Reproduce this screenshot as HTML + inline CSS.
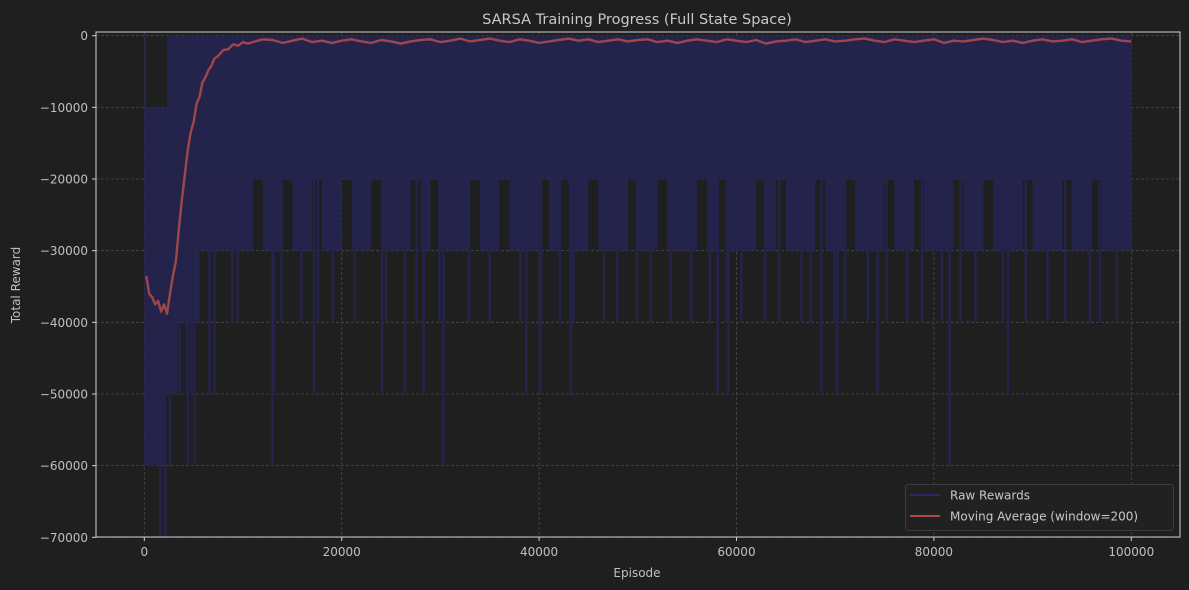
<!DOCTYPE html>
<html><head><meta charset="utf-8">
<style>
html,body{margin:0;padding:0;background:#1f1f1f;}
svg{display:block;font-family:"DejaVu Sans","Liberation Sans",sans-serif;}
</style></head>
<body>
<svg id="chart" width="1189" height="590" viewBox="0 0 1189 590" xmlns="http://www.w3.org/2000/svg">
<rect x="0" y="0" width="1189" height="590" fill="#1f1f1f"/>
<text x="637" y="24" text-anchor="middle" font-size="14.5" fill="#c8c8c8">SARSA Training Progress (Full State Space)</text>
<g id="grid"></g>
<g id="raw"></g>
<g id="ma"></g>
<rect x="96" y="32" width="1084" height="505" fill="none" stroke="#d0d0d0" stroke-width="1"/>
<g id="axes"></g>
<text x="637" y="577" text-anchor="middle" font-size="12" fill="#c0c0c0">Episode</text>
<text transform="translate(20,285) rotate(-90)" text-anchor="middle" font-size="12" fill="#c0c0c0">Total Reward</text>
<g>
<rect x="905.5" y="484.5" width="268" height="46" rx="3" fill="#212121" stroke="#3c3c3c"/>
<line x1="910" y1="495" x2="940" y2="495" stroke="#2a2a66" stroke-width="2"/>
<text x="950" y="499.5" font-size="12" fill="#c8c8c8">Raw Rewards</text>
<line x1="910" y1="516" x2="940" y2="516" stroke="#b04848" stroke-width="2"/>
<text x="950" y="520.5" font-size="12" fill="#c8c8c8">Moving Average (window=200)</text>
</g>
</svg>
<script>
// ---- data ----
const xTicks = [0, 20000, 40000, 60000, 80000, 100000];
const yTicks = [0, -10000, -20000, -30000, -40000, -50000, -60000, -70000];
// raw reward bands: [startEpisode, endEpisode, topReward, bottomReward]
const rawBandStart = [0, 2300, 3300, 0, 0, 0, 0, 0, 0];
const rawBandEnd   = [2300, 3300, 100000, 3000, 5600, 3400, 2100, 1000, 200];
const rawBandTop   = [-10000, 0, 0, -20000, -30000, -40000, -50000, -50000, 0];
const rawBandBot   = [-20000, -20000, -20000, -30000, -40000, -50000, -60000, -60000, -10000];
// per-1000-episode minimum in the -20000..-30000 zone (bins starting at 3000)
const binMin = [-30000,-30000,-30000,-30000,-30000,-30000,-30000,-30000,-20000,-30000,
 -30000,-20000,-30000,-30000,-20000,-30000,-30000,-20000,-30000,-30000,
 -20000,-30000,-30000,-30000,-20000,-30000,-20000,-30000,-30000,-30000,
 -20000,-30000,-30000,-20000,-30000,-30000,-30000,-20000,-30000,-20000,
 -30000,-30000,-20000,-30000,-30000,-30000,-20000,-30000,-30000,-20000,
 -30000,-30000,-30000,-20000,-30000,-20000,-30000,-30000,-30000,-20000,
 -30000,-20000,-30000,-30000,-30000,-20000,-30000,-30000,-20000,-30000,
 -30000,-30000,-20000,-30000,-30000,-20000,-30000,-30000,-30000,-20000,
 -30000,-30000,-20000,-30000,-30000,-30000,-20000,-30000,-30000,-30000,
 -20000,-30000,-30000,-20000,-30000,-30000,-30000];
// individual deep episodes
const spikeEpisode = [1600,2100,8900,9500,13900,15900,17600,19100,21300,24500,27600,29900,32900,35000,38100,40200,42100,43500,46600,47900,49900,51300,53300,55400,57300,59000,60500,62900,64300,66600,67500,69900,71000,73300,75200,77300,78800,80800,82700,84200,87000,89300,91500,93300,95800,96800,98500,
 3600,4300,4800,6600,7100,13100,17200,24100,26400,28300,38700,40100,43200,58100,59200,68600,70200,74300,81600,87500,
 2600,4400,5100,13000,30300,81600];
const spikeValue = [-70000,-70000,-40000,-40000,-40000,-40000,-40000,-40000,-40000,-40000,-40000,-40000,-40000,-40000,-40000,-40000,-40000,-40000,-40000,-40000,-40000,-40000,-40000,-40000,-40000,-40000,-40000,-40000,-40000,-40000,-40000,-40000,-40000,-40000,-40000,-40000,-40000,-40000,-40000,-40000,-40000,-40000,-40000,-40000,-40000,-40000,-40000,
 -50000,-50000,-50000,-50000,-50000,-50000,-50000,-50000,-50000,-50000,-50000,-50000,-50000,-50000,-50000,-50000,-50000,-50000,-50000,-50000,
 -60000,-60000,-60000,-60000,-60000,-60000];
// moving average
const maEpisode = [200,500,800,1100,1400,1700,2000,2300,2600,2900,3200,3500,3800,4100,4400,4700,5000,5300,5600,5900,6200,6500,6800,7100,7500,8000,8500,9000,9500,10000,10500];
const maValue = [-33500,-36000,-36500,-37500,-37000,-38500,-37500,-38800,-36000,-33500,-31500,-27000,-23000,-19500,-16000,-13500,-12000,-9500,-8500,-6500,-5800,-4800,-4200,-3200,-2800,-2000,-1900,-1200,-1400,-900,-1100];
const maTail = [-900,-500,-600,-1000,-700,-400,-900,-700,-1000,-700,-500,-800,-1000,-600,-800,-1100,-800,-600,-500,-900,
 -700,-400,-800,-600,-400,-700,-900,-500,-700,-1000,-800,-600,-400,-700,-500,-900,-700,-500,-800,-600,
 -500,-900,-700,-1000,-700,-500,-700,-900,-500,-700,-900,-600,-1100,-800,-700,-500,-900,-700,-500,-800,
 -700,-500,-400,-700,-900,-500,-700,-900,-700,-500,-1000,-700,-800,-600,-400,-600,-900,-700,-1000,-700,
 -500,-800,-700,-500,-900,-700,-500,-400,-700,-800];

// ---- scales ----
const X0 = 144.3, XS = (1131.3 - 144.3) / 100000;
const Y0 = 35.7, YS = (537.3 - 35.7) / 70000;
const xs = v => X0 + v * XS;
const ys = v => Y0 - v * YS;
const NS = "http://www.w3.org/2000/svg";
function mk(tag, attrs, parent) {
  const e = document.createElementNS(NS, tag);
  for (const k in attrs) e.setAttribute(k, attrs[k]);
  parent.appendChild(e);
  return e;
}
const fmt = t => (t < 0 ? '\u2212' + String(-t) : String(t));
const grid = document.getElementById('grid');
const axes = document.getElementById('axes');
const raw = document.getElementById('raw');
const ma = document.getElementById('ma');
const BLUE = '#24234b';

xTicks.forEach(t => {
  const g = mk('line', {x1: xs(t), x2: xs(t), y1: 32, y2: 537, stroke: '#4a4a4a', 'stroke-dasharray': '3,2', 'stroke-width': 0.8}, grid);
  
  
  const tk = mk('line', {x1: xs(t), x2: xs(t), y1: 537, y2: 541, stroke: '#d0d0d0'}, axes);
  
  
  const tx = mk('text', {x: xs(t), y: 556, 'text-anchor': 'middle', 'font-size': 12, fill: '#c0c0c0'}, axes);
  tx.textContent = fmt(t);
  
  
});
yTicks.forEach(t => {
  const g = mk('line', {x1: 96, x2: 1180, y1: ys(t), y2: ys(t), stroke: '#4a4a4a', 'stroke-dasharray': '3,2', 'stroke-width': 0.8}, grid);
  
  
  const tk = mk('line', {x1: 92, x2: 96, y1: ys(t), y2: ys(t), stroke: '#d0d0d0'}, axes);
  
  
  const tx = mk('text', {x: 88, y: ys(t) + 4.5, 'text-anchor': 'end', 'font-size': 12, fill: '#c0c0c0'}, axes);
  tx.textContent = fmt(t);
  
  
});

// raw reward bands
rawBandStart.forEach((s, i) => {
  const y1 = ys(rawBandTop[i]), y2 = ys(rawBandBot[i]);
  const r = mk('rect', {x: xs(s), y: y1, width: Math.max(1, xs(rawBandEnd[i]) - xs(s)), height: y2 - y1, fill: BLUE}, raw);
  
  
});
binMin.forEach((v, i) => {
  const s = 3000 + i * 1000, e = Math.min(100000, s + 1000);
  const y1 = ys(-20000), y2 = ys(v);
  if (y2 - y1 <= 0) return;
  const r = mk('rect', {x: xs(s), y: y1, width: xs(e) - xs(s), height: y2 - y1, fill: BLUE}, raw);
  
  
});
spikeEpisode.forEach((ep, i) => {
  const l = mk('line', {x1: xs(ep), x2: xs(ep), y1: ys(-20000), y2: ys(spikeValue[i]), stroke: BLUE, 'stroke-width': 2.5}, raw);
  
  
});

// moving average
let pts = maEpisode.map((e, i) => xs(e).toFixed(1) + ',' + ys(maValue[i]).toFixed(1));
maTail.forEach((v, i) => pts.push(xs(11000 + i * 1000).toFixed(1) + ',' + ys(v).toFixed(1)));
const pl = mk('polyline', {points: pts.join(' '), fill: 'none', stroke: '#a64a48', 'stroke-width': 2.4, 'stroke-linejoin': 'round', opacity: 0.95}, ma);


</script>
</body></html>
